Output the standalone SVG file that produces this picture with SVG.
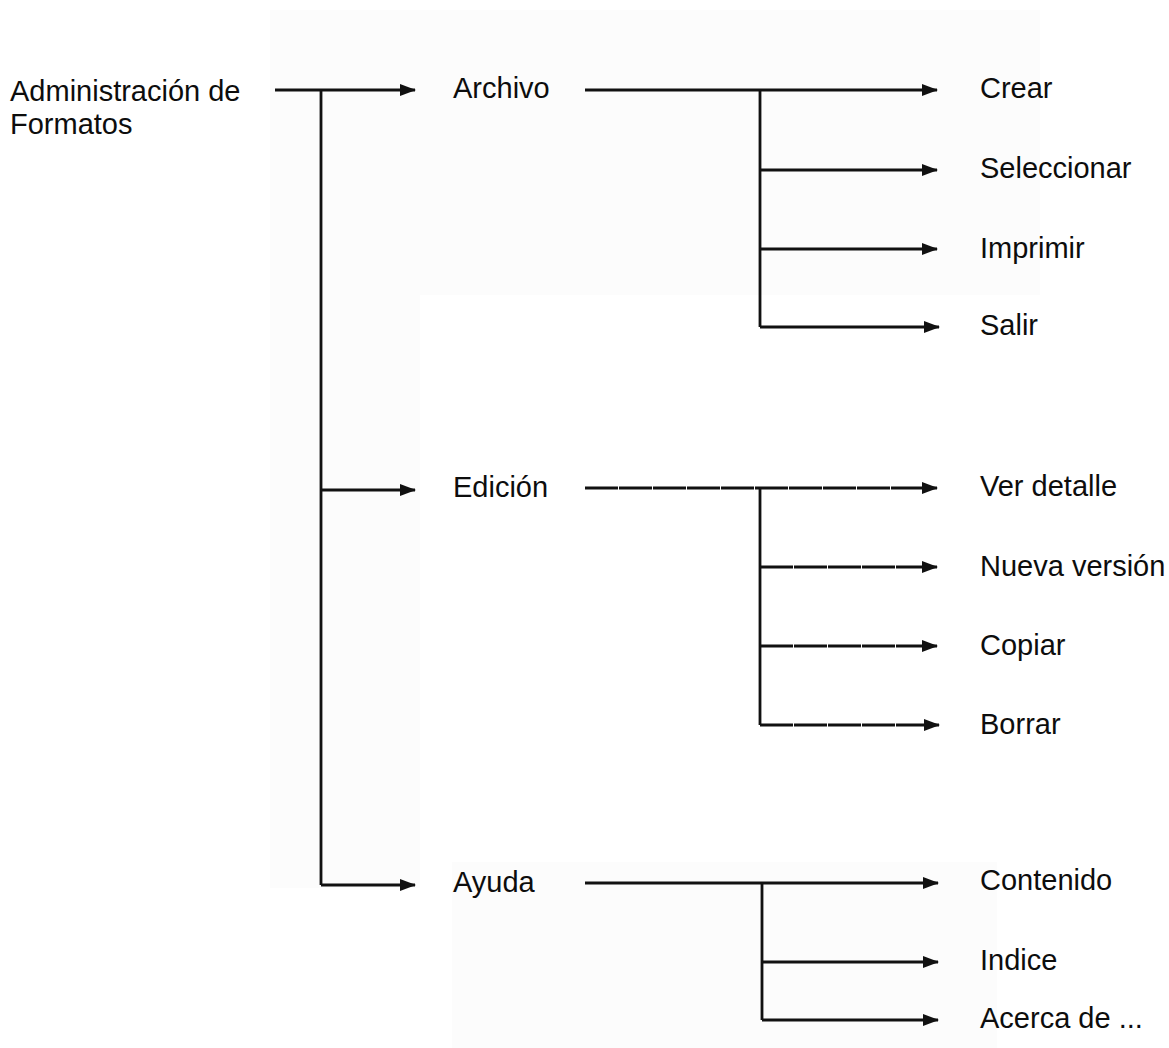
<svg xmlns="http://www.w3.org/2000/svg" width="1169" height="1048" viewBox="0 0 1169 1048">
<style>
  text { font-family: "Liberation Sans", Arial, sans-serif; font-size: 29px; fill: #0d0d0d; }
  .ln { stroke: #111; stroke-width: 2.8; fill: none; }
  .ah { marker-end: url(#arrow); }
  .dash { stroke-dasharray: 33 1; }
</style>
<defs>
  <marker id="arrow" viewBox="0 0 16 12" refX="15" refY="6" markerWidth="16" markerHeight="12" markerUnits="userSpaceOnUse" orient="auto">
    <path d="M0,0 L16,6 L0,12 Z" fill="#111"/>
  </marker>
</defs>
<rect width="1169" height="1048" fill="#ffffff"/>
<g id="background">
  <rect x="270" y="10" width="770" height="285" fill="#fcfcfc"/>
  <rect x="270" y="295" width="150" height="593" fill="#fcfcfc"/>
  <rect x="452" y="862" width="545" height="186" fill="#fcfcfc"/>
</g>
<g id="connectors">
  <path class="ln ah" d="M275,90 H415"/>
  <path class="ln" d="M321,90 V885"/>
  <path class="ln ah" d="M321,490 H415"/>
  <path class="ln ah" d="M321,885 H415"/>

  <path class="ln ah" d="M585,90 H937"/>
  <path class="ln" d="M760,90 V327"/>
  <path class="ln ah" d="M760,170 H937"/>
  <path class="ln ah" d="M760,249 H937"/>
  <path class="ln ah" d="M760,327 H939"/>

  <path class="ln ah dash" d="M585,488 H937"/>
  <path class="ln" d="M760,488 V725"/>
  <path class="ln ah dash" d="M760,567 H937"/>
  <path class="ln ah dash" d="M760,646 H937"/>
  <path class="ln ah dash" d="M760,725 H939"/>

  <path class="ln ah" d="M585,883 H938"/>
  <path class="ln" d="M762,883 V1020"/>
  <path class="ln ah" d="M762,962 H938"/>
  <path class="ln ah" d="M762,1020 H938"/>
</g>
<g id="node-admin"><text x="10" y="101">Administración de</text><text x="10" y="134">Formatos</text></g>
<g id="node-archivo"><text x="453" y="98">Archivo</text></g>
<g id="node-edicion"><text x="453" y="497">Edición</text></g>
<g id="node-ayuda"><text x="453" y="892">Ayuda</text></g>
<g id="node-crear"><text x="980" y="98">Crear</text></g>
<g id="node-seleccionar"><text x="980" y="178">Seleccionar</text></g>
<g id="node-imprimir"><text x="980" y="258">Imprimir</text></g>
<g id="node-salir"><text x="980" y="335">Salir</text></g>
<g id="node-verdetalle"><text x="980" y="496">Ver detalle</text></g>
<g id="node-nuevaversion"><text x="980" y="576">Nueva versión</text></g>
<g id="node-copiar"><text x="980" y="655">Copiar</text></g>
<g id="node-borrar"><text x="980" y="734">Borrar</text></g>
<g id="node-contenido"><text x="980" y="890">Contenido</text></g>
<g id="node-indice"><text x="980" y="970">Indice</text></g>
<g id="node-acerca"><text x="980" y="1028">Acerca de ...</text></g>
</svg>
